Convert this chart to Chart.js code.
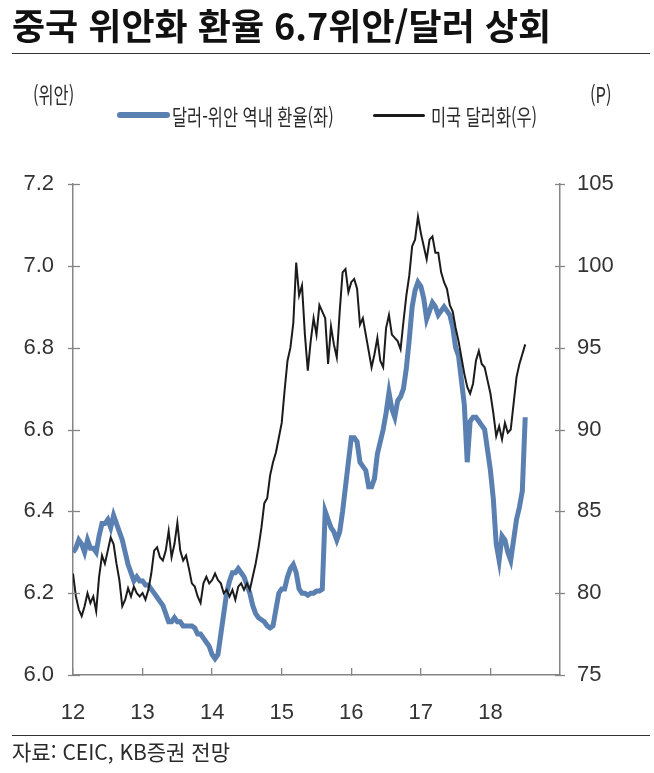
<!DOCTYPE html>
<html lang="ko">
<head>
<meta charset="utf-8">
<script src="https://cdn.jsdelivr.net/npm/chart.js@4.4.1/dist/chart.umd.min.js"></script>
<style>
  html, body { margin: 0; padding: 0; background: #fff; }
  body { width: 654px; height: 773px; position: relative; overflow: hidden;
         font-family: "Noto Sans CJK KR", "Noto Sans", sans-serif; color: #2a2a2a; }
  #chart { position: absolute; left: 0; top: 0; }
  .txt { position: absolute; white-space: nowrap; transform-origin: left top; }
  .title { left: 12px; top: 6px; font-size: 36px; line-height: 36px; font-weight: 700; color: #111; }
  .rule { position: absolute; left: 12px; width: 638px; border-top: 1.5px solid #333; height: 0; }
  .small { font-size: 22px; line-height: 22px; transform: scaleX(0.745); }
  .key { position: absolute; border-radius: 3px; }
  .foot { left: 12px; top: 741px; font-size: 21px; line-height: 21px; }
</style>
</head>
<body>
<canvas id="chart" width="654" height="773"></canvas>
<div class="txt title">중국 위안화 환율 6.7위안/달러 상회</div>
<div class="rule" style="top:53px"></div>
<div class="txt small" style="left:33px; top:82px">(위안)</div>
<div class="txt small" style="left:590px; top:82px">(P)</div>
<div class="key" style="left:117px; top:112px; width:53px; height:6px; background:#5a7fb1"></div>
<div class="txt small" style="left:172px; top:104px">달러-위안 역내 환율(좌)</div>
<div class="key" style="left:373px; top:114px; width:52px; height:2.5px; background:#1b1b1b"></div>
<div class="txt small" style="left:431px; top:104px">미국 달러화(우)</div>
<div class="rule" style="top:735px"></div>
<div class="txt foot">자료: CEIC, KB증권 전망</div>

<script>
// half-month periods, 2012.0 ~ 2018.5
const START_YEAR = 2012;
const PERIODS_PER_YEAR = 24;
const yearLabels = ["12", "13", "14", "15", "16", "17", "18"];

// 달러-위안 역내 환율 (좌, 위안)
const cnyRate = [
  6.30, 6.31, 6.33, 6.32, 6.30, 6.33, 6.31, 6.31, 6.30, 6.34, 6.37, 6.37,
  6.38, 6.36, 6.39, 6.37, 6.35, 6.33, 6.30, 6.27, 6.25, 6.23, 6.24, 6.23,
  6.23, 6.22, 6.22, 6.21, 6.20, 6.19, 6.18, 6.17, 6.15, 6.13, 6.13, 6.14,
  6.13, 6.13, 6.12, 6.12, 6.12, 6.12, 6.115, 6.10, 6.10, 6.09, 6.08, 6.07,
  6.05, 6.04, 6.05, 6.10, 6.15, 6.20, 6.23, 6.25, 6.25, 6.26, 6.25, 6.24,
  6.22, 6.20, 6.17, 6.15, 6.14, 6.135, 6.13, 6.12, 6.115, 6.12, 6.16, 6.20,
  6.21, 6.21, 6.24, 6.26, 6.27, 6.25, 6.21, 6.20, 6.20, 6.195, 6.20, 6.20,
  6.205, 6.205, 6.21, 6.40, 6.38, 6.36, 6.35, 6.33, 6.35, 6.40, 6.46, 6.52,
  6.58, 6.58, 6.57, 6.52, 6.51, 6.50, 6.46, 6.46, 6.48, 6.54, 6.57, 6.60,
  6.64, 6.69, 6.65, 6.63, 6.67, 6.68, 6.70, 6.75, 6.82, 6.90, 6.94, 6.96,
  6.95, 6.92, 6.87, 6.89, 6.91, 6.90, 6.88, 6.89, 6.90, 6.89, 6.88, 6.85,
  6.80, 6.78, 6.72, 6.66, 6.52, 6.62, 6.63, 6.63, 6.62, 6.61, 6.60, 6.55,
  6.50, 6.43, 6.32, 6.28, 6.34, 6.33, 6.30, 6.28, 6.33, 6.38, 6.41, 6.45,
  6.63
];

// 미국 달러화 지수 (우, P)
const usdIndex = [
  81.2, 79.8, 79.0, 78.6, 79.2, 80.0, 79.4, 79.8, 78.9, 81.0, 82.3, 81.8,
  82.6, 83.4, 83.0, 81.8, 80.8, 79.2, 79.6, 80.3, 79.8, 80.4, 80.0, 79.8,
  80.0, 79.6, 80.2, 81.2, 82.6, 82.8, 82.2, 82.0, 82.6, 83.8, 82.2, 83.0,
  84.3, 82.6, 82.0, 82.3, 81.5, 80.6, 80.4, 79.8, 79.4, 80.6, 81.0, 80.6,
  80.8, 81.2, 80.8, 80.6, 80.0, 80.2, 79.8, 80.2, 79.6, 80.4, 80.6, 80.2,
  80.6, 80.2, 81.0, 81.8, 82.8, 84.0, 85.5, 85.8, 87.2, 88.0, 88.6, 89.5,
  90.4, 92.4, 94.2, 95.0, 96.5, 100.2, 98.2, 98.8, 95.8, 93.6, 95.4, 96.8,
  95.8, 97.6, 97.2, 96.8, 94.0, 96.3, 95.2, 94.4, 97.2, 99.6, 99.8, 98.4,
  99.0, 99.2, 98.6, 96.4, 96.8, 95.8, 94.8, 93.8, 94.6, 95.6, 94.2, 93.8,
  96.2, 97.0, 95.8, 95.6, 95.4, 94.9, 96.6, 98.2, 99.4, 101.2, 101.6, 103.0,
  102.0, 101.2, 100.4, 101.6, 101.8, 100.8, 100.8, 99.6, 99.0, 98.6, 97.6, 97.2,
  96.2, 95.4, 94.4, 93.4, 92.6, 92.2, 92.8, 94.2, 94.8, 94.0, 93.8, 93.0,
  92.2, 91.0, 89.6, 90.2, 89.4, 90.4, 89.8, 90.0, 91.6, 93.2, 94.0, 94.6,
  95.2
];

const periods = cnyRate.map((_, i) => START_YEAR + i / PERIODS_PER_YEAR);

const AXIS_COLOR = "#858585";
const TICK_FONT = { family: "'Liberation Sans Narrow', 'Liberation Sans', sans-serif", size: 22 };

// y축 눈금: 축선을 가로지르는 짧은 선
const crossTicks = {
  id: "crossTicks",
  afterDraw(chart) {
    const c = chart.ctx;
    c.save();
    c.strokeStyle = AXIS_COLOR;
    c.lineWidth = 1.3;
    [["y", -5, 7], ["y2", -5, 5]].forEach(([id, a, b]) => {
      const s = chart.scales[id];
      const edge = id === "y" ? s.right : s.left;
      s.ticks.forEach((t) => {
        const py = Math.round(s.getPixelForValue(t.value)) + 0.5;
        c.beginPath();
        c.moveTo(edge + a, py);
        c.lineTo(edge + b, py);
        c.stroke();
      });
    });
    c.restore();
  },
};

new Chart(document.getElementById("chart"), {
  type: "line",
  data: {
    datasets: [
      {
        label: "미국 달러화(우)",
        data: periods.map((x, i) => ({ x, y: usdIndex[i] })),
        yAxisID: "y2",
        borderColor: "#1b1b1b",
        borderWidth: 2,
        pointRadius: 0,
        order: 0,
      },
      {
        label: "달러-위안 역내 환율(좌)",
        data: periods.map((x, i) => ({ x, y: cnyRate[i] })),
        yAxisID: "y",
        borderColor: "#5a7fb1",
        borderWidth: 5,
        pointRadius: 0,
        order: 1,
      },
    ],
  },
  options: {
    responsive: false,
    devicePixelRatio: 1,
    animation: false,
    layout: { padding: { top: 184, left: 0, right: 0, bottom: 0 } },
    plugins: { legend: { display: false }, tooltip: { enabled: false } },
    scales: {
      x: {
        type: "linear",
        min: 2012,
        max: 2019,
        afterFit: (s) => { s.height = 98; },
        border: { color: AXIS_COLOR, width: 1.5 },
        grid: { drawOnChartArea: false, tickLength: -7, color: AXIS_COLOR, lineWidth: 1.3 },
        ticks: {
          stepSize: 1,
          padding: 32,
          color: "#333",
          font: TICK_FONT,
          callback: (v) => yearLabels[v - START_YEAR] ?? null,
        },
      },
      y: {
        position: "left",
        min: 6.0,
        max: 7.2,
        afterFit: (s) => { s.width = 73; },
        border: { color: AXIS_COLOR, width: 1.5 },
        grid: { drawOnChartArea: false, drawTicks: false },
        ticks: { stepSize: 0.2, padding: 19, color: "#333", font: TICK_FONT, callback: (v) => v.toFixed(1) },
      },
      y2: {
        position: "right",
        min: 75,
        max: 105,
        afterFit: (s) => { s.width = 94; },
        border: { color: AXIS_COLOR, width: 1.5 },
        grid: { drawOnChartArea: false, drawTicks: false },
        ticks: { stepSize: 5, padding: 17, color: "#333", font: TICK_FONT },
      },
    },
  },
  plugins: [crossTicks],
});
</script>
</body>
</html>
